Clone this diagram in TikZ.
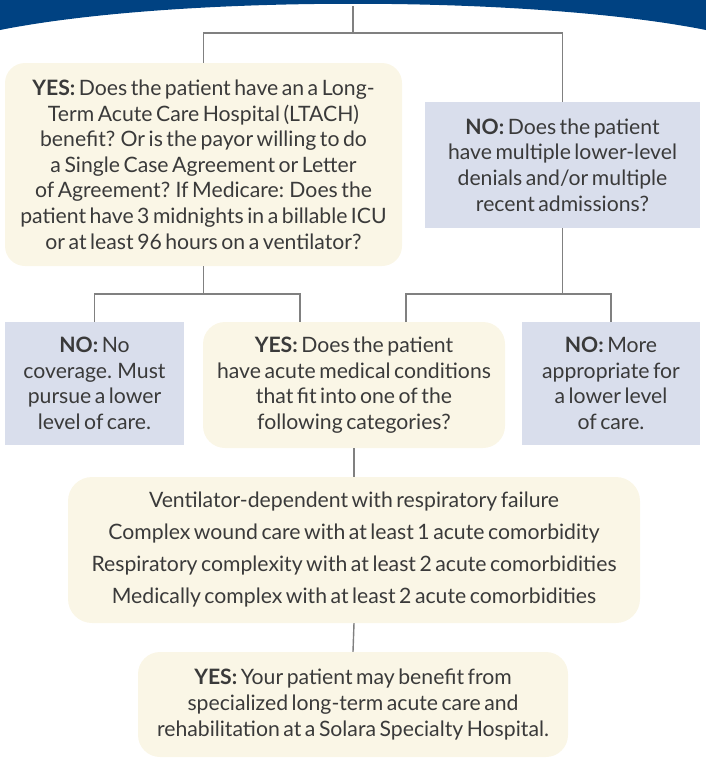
\documentclass[tikz,border=0pt]{standalone}
\usepackage{fontspec}
\setmainfont{Lato}[WordSpace=0.65]
\usetikzlibrary{calc}
\definecolor{bannerblue}{HTML}{004282}
\definecolor{cream}{HTML}{FAF6E6}
\definecolor{slate}{HTML}{D9DEEC}
\definecolor{ink}{HTML}{3A3A3A}
\definecolor{wiregray}{HTML}{808080}
\begin{document}
\begin{tikzpicture}[x=1pt,y=-1pt,
  boxtext/.style={align=center, text=ink, inner sep=0pt, font=\fontsize{21.2}{25.6}\selectfont},
  yesbox/.style={boxtext, fill=cream, rounded corners=20pt},
  nobox/.style={boxtext, fill=slate},
  wire/.style={draw=wiregray, line width=1.4pt}]
\useasboundingbox (0,0) rectangle (706,758);
\fill[bannerblue] (0,0) -- (706,0) -- (706,30) .. controls (530,-5) and (176,-5) .. (0,30) -- cycle;

\node[yesbox, minimum width=397pt, minimum height=203pt] (q1) at (203.5,164.5)
 {\textbf{YES:} Does the patient have an a Long-\\Term Acute Care Hospital (LTACH)\\benefit? Or is the payor willing to do\\a Single Case Agreement or Letter\\of Agreement? If Medicare: Does the\\patient have 3 midnights in a billable ICU\\or at least 96 hours on a ventilator?};
\node[nobox, minimum width=275pt, minimum height=126pt] (q2) at (562.5,165)
 {\textbf{NO:} Does the patient\\have multiple lower-level\\denials and/or multiple\\recent admissions?};

\node[nobox, minimum width=179pt, minimum height=123pt] (n1) at (94.5,383.5)
 {\textbf{NO:} No\\coverage. Must\\pursue a lower\\level of care.};
\node[yesbox, minimum width=302pt, minimum height=126pt, rounded corners=22pt] (q3) at (354,385)
 {\textbf{YES:} Does the patient\\have acute medical conditions\\that fit into one of the\\following categories?};
\node[nobox, minimum width=178pt, minimum height=123pt] (n2) at (611,383.5)
 {\textbf{NO:} More\\appropriate for\\a lower level\\of care.};

\node[yesbox, minimum width=572pt, minimum height=146pt, rounded corners=24pt, font=\fontsize{21.2}{32}\selectfont] (cat) at (354,550)
 {Ventilator-dependent with respiratory failure\\Complex wound care with at least 1 acute comorbidity\\Respiratory complexity with at least 2 acute comorbidities\\Medically complex with at least 2 acute comorbidities};

\node[yesbox, minimum width=430pt, minimum height=105pt, rounded corners=22pt] (fin) at (353,704.5)
 {\textbf{YES:} Your patient may benefit from\\specialized long-term acute care and\\rehabilitation at a Solara Specialty Hospital.};

\coordinate (top) at (353,6);
\coordinate (j1) at (353,33);
\coordinate (j2) at (203.5,294);
\coordinate (j3) at (562.5,294);
\coordinate (pL) at (300,322);
\coordinate (pR) at (406,322);

\draw[wire] (top) -- (j1);
\draw[wire] (q1.north) |- (j1) -| (q2.north);
\draw[wire] (q1.south) -- (j2);
\draw[wire] (n1.north) |- (j2) -| (pL);
\draw[wire] (q2.south) -- (j3);
\draw[wire] (pR) |- (j3) -| (n2.north);
\draw[wire] (q3.south) -- (cat.north);
\draw[wire] (cat.south) -- (fin.north);
\end{tikzpicture}
\end{document}
